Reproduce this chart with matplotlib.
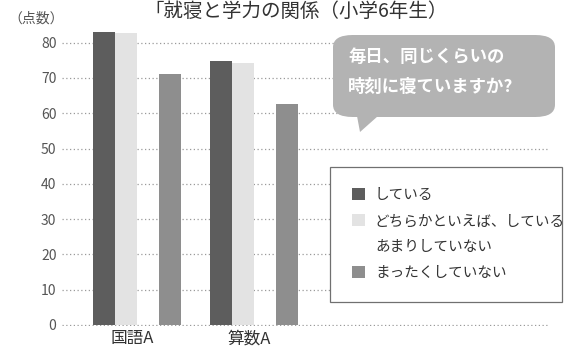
import numpy as np
import matplotlib.pyplot as plt
from matplotlib.patches import FancyBboxPatch, Polygon, Rectangle

plt.rcParams['font.family'] = ['Noto Sans CJK JP', 'DejaVu Sans']

subjects = ["国語A", "算数A"]
answers = ["している", "どちらかといえば、している", "あまりしていない", "まったくしていない"]
scores = {
    "している": [83.1, 74.9],
    "どちらかといえば、している": [82.6, 74.3],
    "あまりしていない": [0, 0],
    "まったくしていない": [71.2, 62.7],
}
colors = ["#5d5d5d", "#e3e3e3", "#ffffff", "#8e8e8e"]
yticks = [0, 10, 20, 30, 40, 50, 60, 70, 80]

W, H = 564, 350
fig = plt.figure(figsize=(W / 100, H / 100), dpi=100)
ax = fig.add_axes([62 / W, 24 / H, 486 / W, 301 / H])

x = np.arange(len(subjects))
bw = 22 / 117
handles = []
for i, name in enumerate(answers):
    b = ax.bar(x + (i - 1.5) * bw, scores[name], width=bw, color=colors[i],
               label=name, zorder=3)
    handles.append(b)

ax.set_ylim(-0.3, 85)
ax.set_xlim(-75 / 117, 411 / 117)
ax.set_yticks(yticks)
ax.set_xticks(x - 5 / 117)
ax.set_xticklabels(subjects, fontsize=12, color="#333333")
ax.tick_params(axis="y", length=0, pad=4, labelsize=10, labelcolor="#555555")
ax.tick_params(axis="x", length=0, pad=3)
for s in ax.spines.values():
    s.set_visible(False)
ax.yaxis.grid(True, color="#9a9a9a", linestyle=(0, (1, 2)), linewidth=0.9)
ax.set_axisbelow(True)

# legend box
ax.add_patch(Rectangle((330 / W, 1 - 302 / H), 232 / W, 135 / H,
                       transform=fig.transFigure, facecolor="white", clip_on=False,
                       edgecolor="#707070", linewidth=0.9, zorder=4))
leg = ax.legend(handles=handles, loc="upper left", frameon=False,
                bbox_to_anchor=(345 / W, 1 - 181 / H), bbox_transform=fig.transFigure,
                borderpad=0, fontsize=10.5, labelspacing=0.82, handlelength=0.85,
                handleheight=0.85, handletextpad=0.7, labelcolor="#333333")
leg.set_zorder(5)

# speech bubble
ax.add_patch(FancyBboxPatch((333 / W, 1 - 117 / H), 222 / W, 82 / H,
                            boxstyle="round,pad=0,rounding_size=0.035",
                            transform=fig.transFigure, facecolor="#b3b3b3",
                            edgecolor="none", zorder=4, clip_on=False))
ax.add_patch(Polygon([(357 / W, 1 - 116 / H), (378 / W, 1 - 116 / H), (360 / W, 1 - 132 / H)],
                     closed=True, transform=fig.transFigure, clip_on=False,
                     facecolor="#b3b3b3", edgecolor="none", zorder=4))
fig.text(348 / W, 1 - 57 / H, "毎日、同じくらいの", fontsize=12.5, fontweight="bold",
         color="white", va="center", ha="left", zorder=6)
fig.text(348 / W, 1 - 87 / H, "時刻に寝ていますか?", fontsize=12.5, fontweight="bold",
         color="white", va="center", ha="left", zorder=6)

fig.text(8 / W, 1 - 19 / H, "（点数）", fontsize=10, color="#555555", va="center", ha="left")
fig.text(296 / W, 1 - 11 / H, "「就寝と学力の関係（小学6年生）", fontsize=14,
         color="#333333", va="center", ha="center")

fig.savefig("out.png", dpi=100, facecolor="white")
